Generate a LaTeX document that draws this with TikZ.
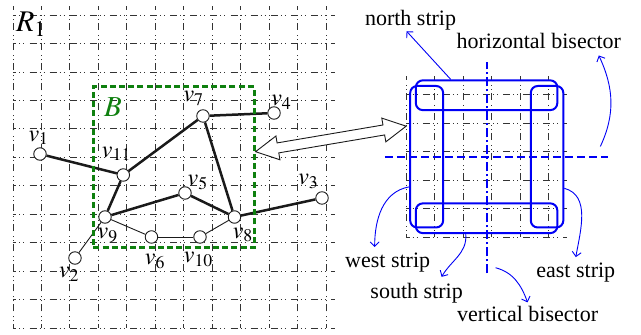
\documentclass[tikz,border=0pt]{standalone}
\usepackage{mathptmx}
\usepackage[no-math]{fontspec}
\setmainfont{Liberation Serif}
\usepackage{tikz}
\usetikzlibrary{arrows.meta,positioning,shapes.arrows,calc,fit}
\definecolor{ink}{HTML}{1A1A1A}
\definecolor{gridgray}{HTML}{333333}
\definecolor{boxgreen}{HTML}{0F800F}
\definecolor{stripblue}{HTML}{0000F5}
\tikzset{
  gridline/.style={draw=gridgray,line width=0.8pt,
                   dash pattern=on 7pt off 3pt on 1pt off 3pt on 1pt off 5.1pt,
                   dash phase=3.5pt},
  vtx/.style={circle,draw=ink,fill=white,line width=0.9pt,
              minimum size=12.5pt,inner sep=0pt},
  vlbl/.style={inner sep=0pt,anchor=center,font=\fontsize{24}{28}\selectfont},
  thickedge/.style={draw=ink,line width=2.5pt},
  thinedge/.style={draw=ink,line width=0.9pt},
  bbox/.style={draw=boxgreen,line width=2.8pt,dash pattern=on 6pt off 3.2pt,
                inner sep=0pt},
  strip/.style={draw=stripblue,line width=2pt,rounded corners=7pt,
                inner sep=0pt},
  bisect/.style={draw=stripblue,line width=2pt,dash pattern=on 8pt off 4pt},
  vbisect/.style={draw=stripblue,line width=2pt,
                  dash pattern=on 9pt off 3pt on 2pt off 3pt},
  tag/.style={inner sep=1pt},
  tagarr/.style={-{Straight Barb[length=4.5pt,width=9pt]},draw=stripblue,
                 line width=0.9pt},
  linkarr/.style={double arrow,draw=ink,fill=white,line width=0.9pt,
                  inner xsep=0pt,inner ysep=4.6pt,minimum width=23pt,
                  double arrow head extend=7pt,double arrow tip angle=56}
}
\begin{document}
\begin{tikzpicture}[x=40.2pt,y=40.2pt,font=\fontsize{22}{26}\selectfont]
  \useasboundingbox (-0.323,-0.174) rectangle (15.622,8.159);
  \draw[gridline] (0,0) grid (8,8);
  \node[font=\fontsize{30}{34}\selectfont] (R1) at (0.45,7.56) {$R_1$};
  \foreach \n/\x/\y/\a/\d in {1/0.672/4.328/95/9.6, 2/1.542/1.741/-110/10.6,
      3/7.687/3.234/130/14.6, 4/6.493/5.348/56/6.3, 5/4.279/3.358/39/9.7,
      6/3.445/2.264/-82/18.2, 7/4.726/5.274/118/13.4, 8/5.510/2.761/-65/12.9,
      9/2.289/2.761/-82/12.2, 10/4.652/2.264/-94/16, 11/2.744/3.806/108/15.5}{
    \node[vtx,label={[vlbl,label distance=\d pt]\a:$v_{\n}$}] (v\n) at (\x,\y) {};
  }
  \foreach \a/\b in {1/11,11/7,9/11,7/4,7/8,9/5,5/8,8/3}
    \draw[thickedge] (v\a) -- (v\b);
  \foreach \a/\b in {2/9,9/6,6/10,10/8}
    \draw[thinedge] (v\a) -- (v\b);
  \node[bbox,fit={(2,2) (6,6)}] (B) {};
  \node[text=boxgreen,font=\fontsize{29}{32}\selectfont] (Blbl) at (2.49,5.49) {$B$};

  \begin{scope}[shift={(9.78,2.26)}]
    \draw[gridline] (0,0) grid (4,4);
    \node[strip,fit={(0.24,3.16) (3.76,3.9)}] (nstrip) {};
    \node[strip,fit={(0.24,0.1) (3.76,0.84)}] (sstrip) {};
    \node[strip,fit={(0.1,0.24) (0.92,3.76)}] (wstrip) {};
    \node[strip,fit={(3.1,0.24) (3.91,3.76)}] (estrip) {};
    \coordinate (hbW) at (-0.53,2);
    \coordinate (hbE) at (5.02,2);
    \coordinate (vbS) at (2,-0.9);
    \coordinate (vbN) at (2,4.36);
    \coordinate (linkR) at (0,2.76);
  \end{scope}
  \draw[bisect] (hbW) -- (hbE);
  \draw[vbisect] (vbS) -- (vbN);

  \node[tag] (nlab) at (9.89,7.66) {north strip};
  \node[tag] (hlab) at (13.08,7.15) {horizontal bisector};
  \node[tag] (wlab) at (9.32,1.62) {west strip};
  \node[tag] (slab) at (10.04,0.87) {south strip};
  \node[tag] (elab) at (14.0,1.37) {east strip};
  \node[tag] (vlab) at (12.8,0.34) {vertical bisector};
  \draw[tagarr] ($(nstrip.north west)!0.25!(nstrip.north east)$) -- ([xshift=-4pt]nlab.south);
  \draw[tagarr] ([xshift=-7.6pt,yshift=10.3pt]hbE) to[out=65,in=-65] ([xshift=60pt,yshift=-6pt]hlab.south);
  \draw[tagarr] ($(wstrip.south west)!0.29!(wstrip.north west)$) to[out=190,in=90] ([xshift=-13pt,yshift=5pt]wlab.north);
  \draw[tagarr] ($(sstrip.south west)!0.355!(sstrip.south east)$) to[out=-85,in=60] ([xshift=25pt,yshift=5pt]slab.north);
  \draw[tagarr] ($(estrip.south east)!0.28!(estrip.north east)$) to[out=-15,in=80] ([yshift=5pt]elab.north);
  \draw[tagarr] ([xshift=9pt,yshift=5.6pt]vbS) to[out=-15,in=110] ([yshift=3pt]vlab.north);

  \coordinate (linkL) at ([yshift=15.5pt]B.east);
  \path let \p1=($(linkR)-(linkL)$), \n1={atan2(\y1,\x1)}, \n2={veclen(\x1,\y1)} in
    node[linkarr,rotate=\n1,minimum height=\n2] (link) at ($(linkL)!0.5!(linkR)$) {};
\end{tikzpicture}
\end{document}
